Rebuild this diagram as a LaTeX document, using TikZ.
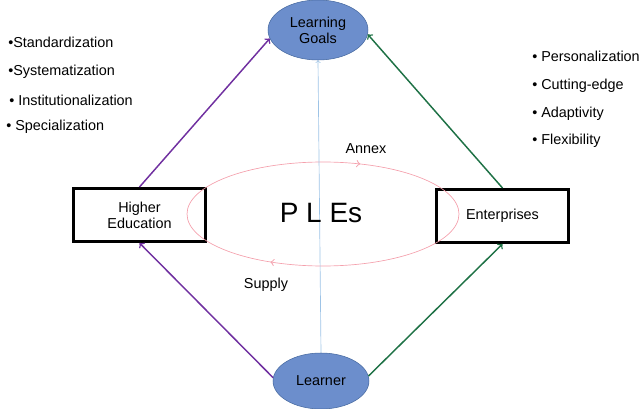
\documentclass[tikz,border=0pt]{standalone}
\usepackage{fontspec}
\setmainfont{Liberation Sans}
\usetikzlibrary{arrows,shapes.geometric,decorations.markings}
\definecolor{goalfill}{RGB}{108,142,204}
\definecolor{goalborder}{RGB}{70,105,160}
\definecolor{ppl}{RGB}{112,48,160}
\definecolor{grn}{RGB}{30,113,69}
\definecolor{pinkln}{RGB}{244,160,172}
\definecolor{skyln}{RGB}{157,195,230}

\begin{document}
\begin{tikzpicture}[x=0.75pt,y=0.75pt,font=\fontsize{10.8}{12}\selectfont,
goal/.style={ellipse,draw=goalborder,fill=goalfill,inner sep=0pt,align=center},
block/.style={draw,line width=2pt,minimum width=99pt,minimum height=40pt,inner sep=0pt,align=center},
purplearr/.style={->,draw=ppl,line width=1.1pt},
greenarr/.style={->,draw=grn,line width=1.1pt},
loop/.style={draw=pinkln,line width=0.5pt,postaction={decorate},
  decoration={markings,mark=at position #1 with {\arrow[scale=1.4]{to}}}},
item/.style={anchor=west,inner sep=0pt}]
\useasboundingbox (0,0) rectangle (640,408);

\node[goal,minimum width=75pt,minimum height=45pt] (goals) at (318,378) {Learning\\Goals};
\node[goal,minimum width=72pt,minimum height=42pt] (learner) at (321,27) {Learner};
\node[block] (higher) at (139.5,193) {Higher\\Education};
\node[block] (ent) at (502.5,192) {Enterprises};

\draw[loop=0.62] (187,194) arc[start angle=180,end angle=0,x radius=102pt,y radius=39pt];
\draw[loop=0.67] (459,194) arc[start angle=0,end angle=-180,x radius=102pt,y radius=39pt];
\draw[->,draw=skyln,line width=0.5pt] (learner.north) -- (goals.south);

\draw[purplearr] (higher.north) -- (goals.190);
\draw[purplearr] (learner.176) -- (higher.south);
\draw[greenarr] (ent.north) -- (goals.355);
\draw[greenarr] (learner.6) -- (ent.south);

\node (ples) at (321,195) {\fontsize{21}{24}\selectfont P L Es};
\node (annex) at (366,259) {Annex};
\node (supply) at (266,123) {Supply};

\node[item] (s1) at (8,366) {\textbullet Standardization};
\node[item] (s2) at (8,336) {\textbullet Systematization};
\node[item] (s3) at (9,308) {\textbullet\ Institutionalization};
\node[item] (s4) at (6,281) {\textbullet\ Specialization};
\node[item] (p1) at (532,352) {\textbullet\ Personalization};
\node[item] (p2) at (532,322) {\textbullet\ Cutting-edge};
\node[item] (p3) at (532,294) {\textbullet\ Adaptivity};
\node[item] (p4) at (532,267) {\textbullet\ Flexibility};
\end{tikzpicture}
\end{document}
